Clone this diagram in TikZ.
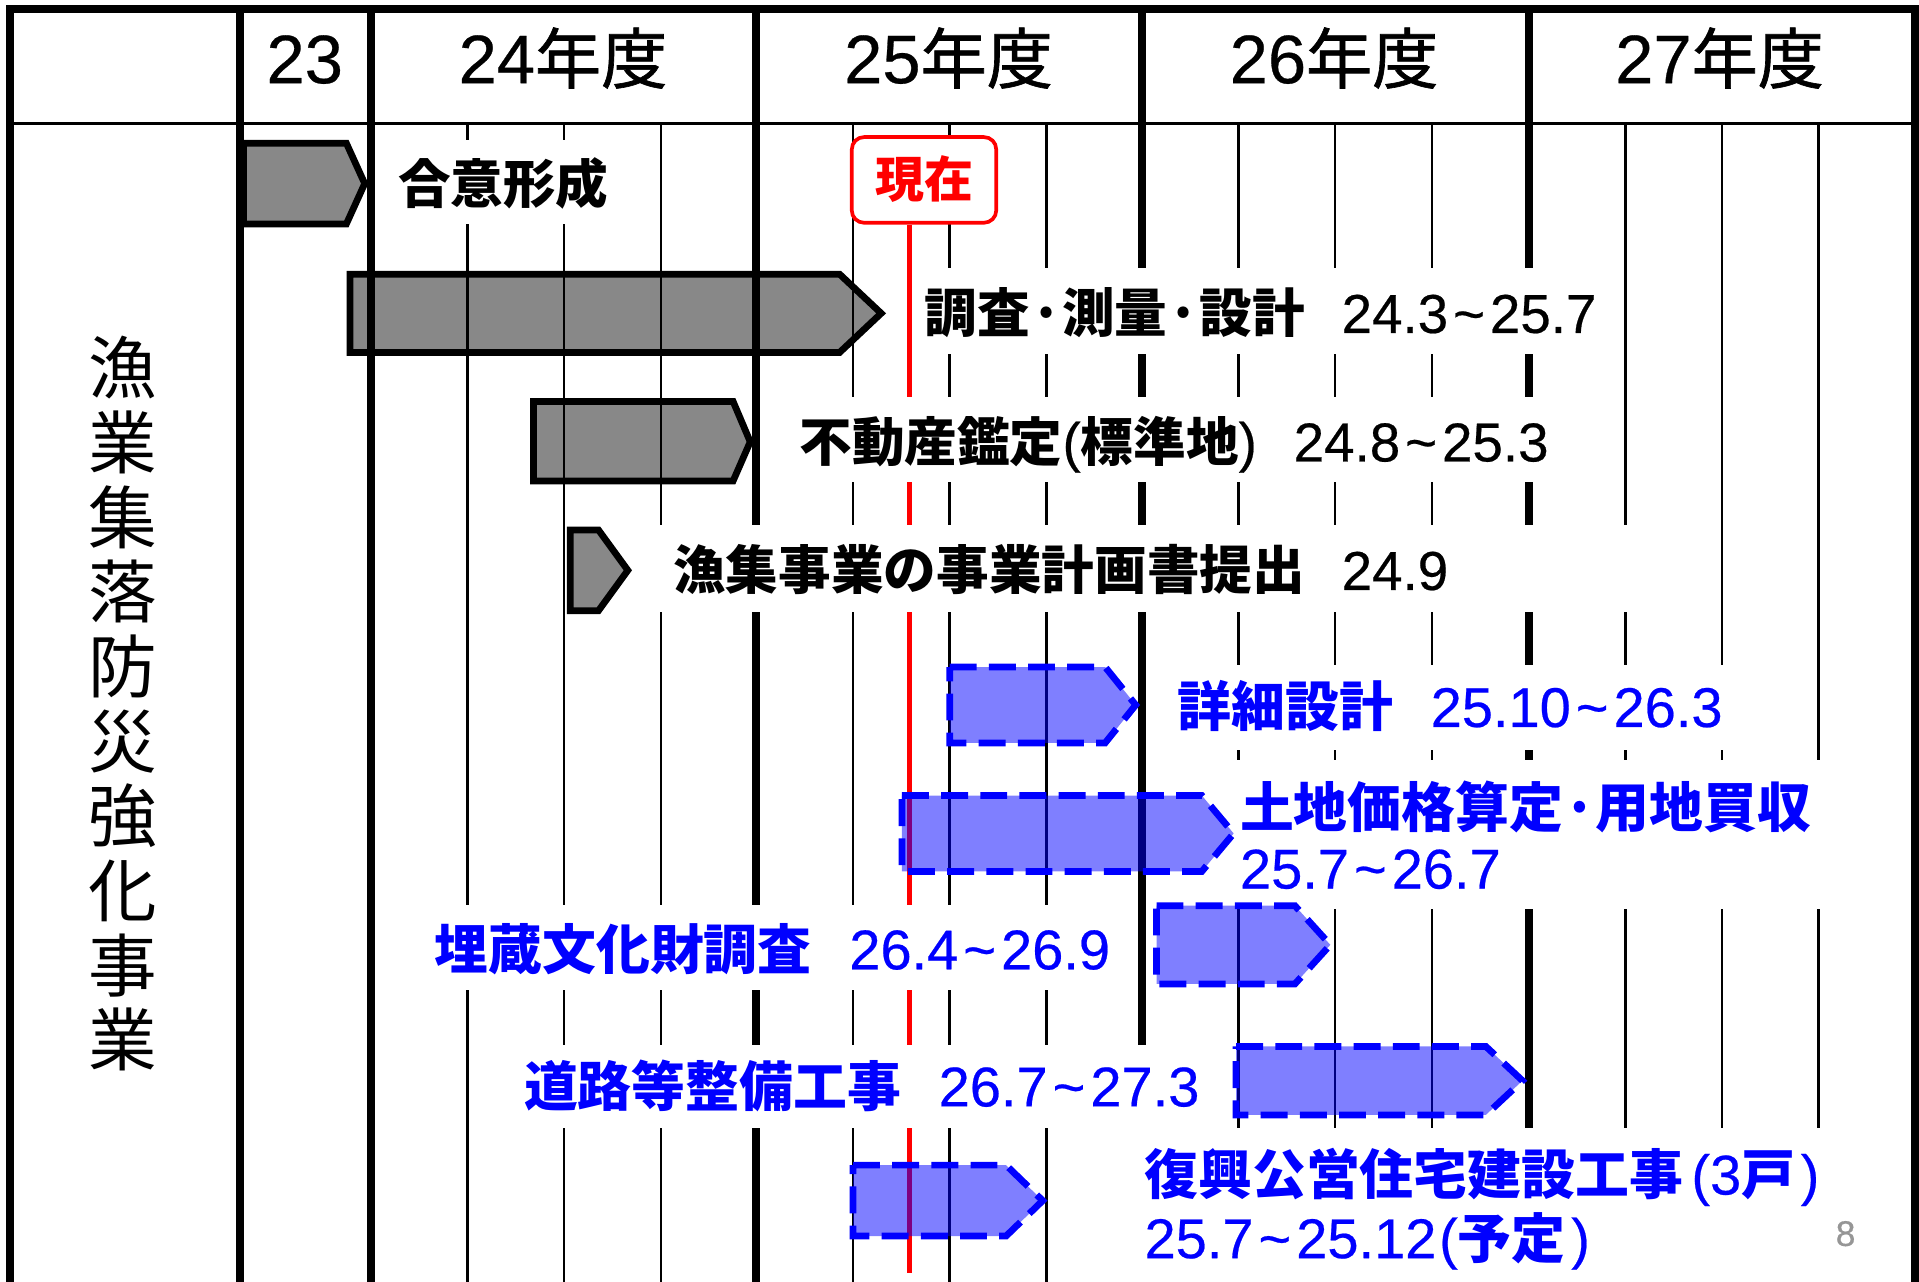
\documentclass[tikz,border=0pt]{standalone}
\usepackage{fontspec}
\setmainfont{Noto Sans CJK JP}
\newfontfamily\lat{Liberation Sans}[Scale=1.04, FakeBold=0.4]
\newfontfamily\cjkmed{Noto Sans CJK JP}[FakeBold=1]
\newcommand\dt[1]{{\lat\mdseries #1}}
\newcommand\tld{\hspace{0.09em}\textasciitilde\hspace{0.09em}}
\definecolor{pagegray}{RGB}{150,150,150}
\begin{document}
\begin{tikzpicture}[x=1pt,y=-1pt,
  thickline/.style={line width=6.5pt},
  thinline/.style={line width=2pt},
  graybar/.style={draw=black, line width=5.5pt, fill=black, fill opacity=0.467},
  bluebar/.style={draw=blue, line width=5.5pt, fill=blue, fill opacity=0.5, dash pattern=on 22pt off 10pt},
  lbl/.style={fill=white, inner sep=0pt, anchor=base west, font=\fontsize{43}{50}\selectfont\bfseries},
  blbl/.style={lbl, text=blue, font=\fontsize{44}{50}\selectfont\bfseries},
  hdr/.style={font=\fontsize{54}{60}\selectfont\cjkmed, inner sep=0pt, anchor=base}]
\useasboundingbox (0,0) rectangle (1568,1047);
\clip (0,0) rectangle (1568,1047);
% grid
\draw[line width=7pt] (8,7.5) rectangle (1565,1070);
\draw[line width=3pt] (8,101) -- (1565,101);
\foreach \x in {196,303,618,933,1249} \draw[thickline] (\x,7.5) -- (\x,1070);
\foreach \x in {382,461,540,697,776,855,1012,1091,1170,1328,1407,1486} \draw[thinline] (\x,101) -- (\x,1070);
% now marker
\node[draw=red, line width=3pt, rounded corners=10pt, fill=white, minimum width=118pt, minimum height=70pt,
  text=red, font=\fontsize{40}{48}\selectfont\bfseries, inner sep=0pt, text height=35pt, text depth=5.6pt] (now) at (755,147) {現在};
\coordinate (redbot) at (743,1040);
\draw[red, line width=4pt] (redbot |- now.south) -- (redbot);
% labels
\node[lbl, text height=52pt, text depth=17pt] (l1) at (312,166) {\makebox[213pt][l]{\hspace{13pt}合意形成}};
\node[lbl, text height=53pt, text depth=17pt] (l2) at (748,272) {\makebox[562pt][l]{\hspace{7.5pt}調査·測量·設計\hspace{0.7em}\dt{24.3\tld 25.7}}};
\node[lbl, text height=53pt, text depth=17pt] (l3) at (635,377) {\makebox[665pt][l]{\hspace{18pt}不動産鑑定\dt{(}標準地\dt{)}\hspace{0.7em}\dt{24.8\tld 25.3}}};
\node[lbl, text height=53pt, text depth=18pt] (l4) at (525,482) {\makebox[825pt][l]{\hspace{25pt}漁集事業の事業計画書提出\hspace{0.7em}\dt{24.9}}};
\node[blbl, text height=51pt, text depth=19pt] (l5) at (945,594) {\makebox[475pt][l]{\hspace{17pt}詳細設計\hspace{0.7em}\dt{25.10\tld 26.3}}};
\node[blbl, text height=55pt, text depth=9pt] (l6a) at (1003,676) {\makebox[507pt][l]{\hspace{10pt}土地価格算定·用地買収}};
\node[blbl, text height=41pt, text depth=17pt] (l6b) at (1003,726) {\makebox[507pt][l]{\hspace{10pt}\dt{25.7\tld 26.7}}};
\node[blbl, text height=52.5pt, text depth=17pt] (l7) at (345,792) {\makebox[570pt][l]{\hspace{10pt}埋蔵文化財調査\hspace{0.7em}\dt{26.4\tld 26.9}}};
\node[blbl, text height=50.4pt, text depth=18pt] (l8) at (415,904) {\makebox[580pt][l]{\hspace{13pt}道路等整備工事\hspace{0.7em}\dt{26.7\tld 27.3}}};
\node[blbl, text height=54pt, text depth=10pt] (l9a) at (925,976) {\makebox[585pt][l]{\hspace{10pt}復興公営住宅建設工事\dt{\hspace{0.15em}(3}戸\dt{\hspace{0.1em})}}};
\node[blbl, text height=42pt, text depth=22pt] (l9b) at (925,1028) {\makebox[585pt][l]{\hspace{10pt}\dt{25.7\tld 25.12\hspace{0.05em}(}予定\dt{\hspace{0.1em})}}};
% bars
\draw[graybar] (199,117) -- (283,117) -- (298,150) -- (283,183) -- (199,183) -- cycle;
\draw[graybar] (286,224) -- (686,224) -- (720,256) -- (686,288) -- (286,288) -- cycle;
\draw[graybar] (436,328) -- (599,328) -- (613,361) -- (599,393) -- (436,393) -- cycle;
\draw[graybar] (466,433) -- (489,433) -- (513,466) -- (489,499) -- (466,499) -- cycle;
\draw[bluebar] (776,545) -- (903,545) -- (928,576) -- (903,607) -- (776,607) -- cycle;
\draw[bluebar] (737,650) -- (982,650) -- (1008,681) -- (982,712) -- (737,712) -- cycle;
\draw[bluebar] (945,740) -- (1058,740) -- (1087,772) -- (1058,804) -- (945,804) -- cycle;
\draw[bluebar] (1010,855) -- (1214,855) -- (1244,883) -- (1214,911) -- (1010,911) -- cycle;
\draw[bluebar] (697,952) -- (822,952) -- (852,981) -- (822,1010) -- (697,1010) -- cycle;
% headers
\node[hdr] (h23) at (249,68) {\dt{23}};
\node[hdr] (h24) at (460,68) {\dt{24}年度};
\node[hdr] (h25) at (775,68) {\dt{25}年度};
\node[hdr] (h26) at (1090,68) {\dt{26}年度};
\node[hdr] (h27) at (1405,68) {\dt{27}年度};
\node[font=\fontsize{56}{61}\selectfont, align=center, inner sep=0pt] (vt) at (100,575) {漁\\業\\集\\落\\防\\災\\強\\化\\事\\業};
\node[text=pagegray, font=\fontsize{28}{30}\selectfont\lat, inner sep=0pt] (pg) at (1508,1008) {8};
\end{tikzpicture}
\end{document}
